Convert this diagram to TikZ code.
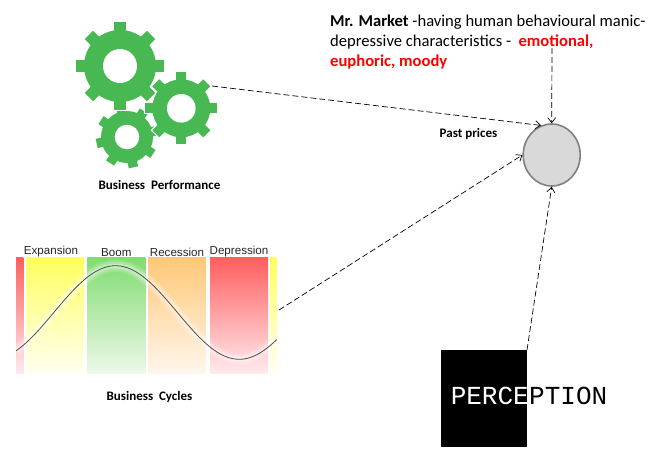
\documentclass[tikz,border=0pt]{standalone}
\usepackage{fontspec}
\setmainfont{Carlito}
\newfontfamily\chartfont{Liberation Sans}
\newfontfamily\inkfont{Liberation Mono}
\usetikzlibrary{positioning,arrows.meta,shapes.geometric}

\definecolor{geargreen}{HTML}{47B852}
\definecolor{marketgray}{HTML}{D9D9D9}
\definecolor{emored}{HTML}{FF0000}
\definecolor{boomtop}{HTML}{80DC70}
\definecolor{boombot}{HTML}{EEF8EA}
\definecolor{rectop}{HTML}{FFC878}
\definecolor{recbot}{HTML}{FFF6EC}
\definecolor{deptop}{HTML}{FF5F5F}
\definecolor{depbot}{HTML}{FFEAEE}
\definecolor{exptop}{HTML}{FFFF5F}
\definecolor{expbot}{HTML}{FFFFF2}

\tikzset{
    band/.style={minimum height=115.5pt, inner sep=0pt, outer sep=0pt, anchor=north west},
    bandlabel/.style={font=\chartfont\fontsize{11.6}{13}\selectfont, text=black!85, inner sep=0pt},
    caption/.style={font=\fontsize{13}{15}\selectfont\bfseries, inner sep=0pt},
    link/.style={dash pattern=on 6pt off 3pt, line width=.7pt, -{Straight Barb[length=5pt,width=8pt]}}
}

% center x, center y, body radius, tip radius, hole radius, tooth width, start angle
\newcommand{\geardraw}[7]{
    \begin{scope}[shift={(#1,#2)}]
        \foreach \a in {0,45,...,315} {
            \fill[white, rotate=#7+\a] (-#6/2-1.2,0) rectangle (#6/2+1.2,#4+1.2);
        }
        \fill[white] (0,0) circle[radius=#3+1.2];
        \foreach \a in {0,45,...,315} {
            \fill[geargreen, rotate=#7+\a] (-#6/2,0) rectangle (#6/2,#4);
        }
        \fill[geargreen] (0,0) circle[radius=#3];
        \fill[white] (0,0) circle[radius=#5];
    \end{scope}
}

\begin{document}
\begin{tikzpicture}[x=1pt,y=-1pt]
    \useasboundingbox (0,0) rectangle (653,468);

    % gears
    \geardraw{127}{137}{26}{31}{12.3}{9.5}{12}
    \geardraw{120}{66}{36}{44}{17}{12}{0}
    \geardraw{181.3}{108.3}{29}{36}{14.3}{10}{0}
    \coordinate (perf) at (212,86);
    \node[caption] (perflabel) at (159.5,185) {Business\ \ Performance};

    % business cycle bands
    \node[band, minimum width=7.3pt, top color=deptop, bottom color=depbot] (edge1) at (16,257.7) {};
    \node[band, minimum width=58pt, top color=exptop, bottom color=expbot] (expansion) at (26,257.7) {};
    \node[band, minimum width=58pt, top color=boomtop, bottom color=boombot] (boom) at (87.3,257.7) {};
    \node[band, minimum width=58pt, top color=rectop, bottom color=recbot] (recession) at (148,257.7) {};
    \node[band, minimum width=58pt, top color=deptop, bottom color=depbot] (depression) at (210,257.7) {};
    \node[band, minimum width=6.7pt, top color=exptop, bottom color=expbot] (edge2) at (270,257.7) {};

    \node[bandlabel, above=1pt of expansion, xshift=-4pt] (explabel) {Expansion};
    \node[bandlabel, above=1pt of boom] (boomlabel) {Boom};
    \node[bandlabel, above=1pt of recession] (reclabel) {Recession};
    \node[bandlabel, above=1pt of depression] (deplabel) {Depression};

    \foreach \w/\o in {12/.15,8/.2,4/.3} {
        \draw[white, opacity=\o, line width=\w pt] plot[smooth, samples=60, domain=16:276.7] (\x, {312.5+46.8*cos(1.4563*(\x+8))});
    }
    \draw[black!70, line width=.8pt] plot[smooth, samples=60, domain=16:276.7] (\x, {312.5+46.8*cos(1.4563*(\x+8))});
    \coordinate (cycles) at (279,310);
    \node[caption] (cycleslabel) at (149.5,397) {Business\ \ Cycles};

    % perception
    \node[fill=black, minimum width=85.7pt, minimum height=96.7pt, inner sep=0pt, outer sep=0pt] (perception) at (483.85,398.35) {};
    \node[font=\inkfont\fontsize{26}{28}\selectfont, text=white, inner sep=0pt, anchor=east] (percleft) at (529,395.5) {PERCE};
    \node[font=\inkfont\fontsize{26}{28}\selectfont, text=black, inner sep=0pt, anchor=west] (percright) at (529,395.5) {PTION};
    \coordinate (perctop) at (527,350);

    % mr market
    \node[ellipse, draw=black!50, line width=1.6pt, fill=marketgray, minimum width=57pt, minimum height=62pt, inner sep=0pt] (market) at (551.7,155) {};
    \node[caption] (pastprices) at (468.5,134) {Past prices};
    \node[font=\fontsize{16.6}{20.3}\selectfont, align=left, inner sep=0pt, anchor=north west] (mrmarket) at (330,14.5)
        {\textbf{Mr. Market} -having human behavioural manic-\\
         depressive characteristics -\ \ \textcolor{emored}{\textbf{emotional,}}\\
         \textcolor{emored}{\textbf{euphoric, moody}}};
    \coordinate (mrdrop) at (552,48);

    % links
    \draw[link] (perf) -- (market.110);
    \draw[link] (cycles) -- (market.180);
    \draw[link] (perctop) -- (market.south);
    \draw[link] (mrdrop) -- (market.north);
\end{tikzpicture}
\end{document}
